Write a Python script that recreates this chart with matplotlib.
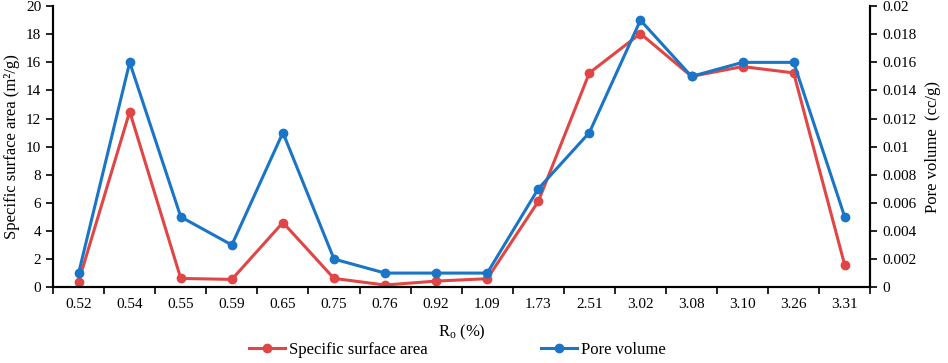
import matplotlib
matplotlib.use("Agg")
import matplotlib.pyplot as plt
import numpy as np

categories = ["0.52", "0.54", "0.55", "0.59", "0.65", "0.75", "0.76", "0.92",
              "1.09", "1.73", "2.51", "3.02", "3.08", "3.10", "3.26", "3.31"]
surface_area = [0.4, 12.5, 0.62, 0.55, 4.6, 0.62, 0.15, 0.43,
                0.6, 6.1, 15.25, 18.05, 15.0, 15.7, 15.25, 1.57]
pore_volume = [0.001, 0.016, 0.005, 0.003, 0.011, 0.002, 0.001, 0.001,
               0.001, 0.007, 0.011, 0.019, 0.015, 0.016, 0.016, 0.005]
left_ticks = [0, 2, 4, 6, 8, 10, 12, 14, 16, 18, 20]
right_ticks = [0, 0.002, 0.004, 0.006, 0.008, 0.01, 0.012, 0.014, 0.016, 0.018, 0.02]
right_labels = ["0", "0.002", "0.004", "0.006", "0.008", "0.01", "0.012",
                "0.014", "0.016", "0.018", "0.02"]

plt.rcParams['font.family'] = ['Liberation Serif', 'DejaVu Serif']
plt.rcParams['mathtext.fontset'] = 'custom'
plt.rcParams['mathtext.rm'] = 'Liberation Serif'
plt.rcParams['mathtext.it'] = 'Liberation Serif:italic'

RED = '#E04646'
BLUE = '#1A75C6'

fig = plt.figure(figsize=(9.48, 3.63), dpi=100)
ax = fig.add_axes([0.056, 0.209, 0.862, 0.774])
ax2 = ax.twinx()

x = np.arange(len(categories))
l1, = ax.plot(x, surface_area, color=RED, lw=2.2, marker='o', ms=6, label='Specific surface area')
l2, = ax2.plot(x, pore_volume, color=BLUE, lw=2.2, marker='o', ms=6, label='Pore volume')

ax.set_xlim(-0.5, len(categories) - 0.5)
ax.set_ylim(0, 20)
ax2.set_ylim(0, 0.02)

ax.set_yticks(left_ticks)
ax.set_yticklabels([str(t) for t in left_ticks])
ax2.set_yticks(right_ticks)
ax2.set_yticklabels(right_labels)

ax.set_xticks(x)
ax.set_xticklabels(categories)
ax.set_xticks(np.arange(-0.5, len(categories), 1.0), minor=True)
ax.tick_params(axis='x', which='major', length=0, labelsize=11, pad=8)
ax.tick_params(axis='x', which='minor', length=5, width=1.2, direction='out')
ax.tick_params(axis='y', length=5, width=1.2, direction='out', labelsize=11)
ax2.tick_params(axis='y', length=5, width=1.2, direction='out', labelsize=11)

for a in (ax, ax2):
    a.spines['top'].set_visible(False)
    for s in ('left', 'right', 'bottom'):
        a.spines[s].set_linewidth(1.5)
        a.spines[s].set_color('black')

ax.set_ylabel('Specific surface area (m²/g)', fontsize=12, labelpad=4)
ax2.set_ylabel('Pore volume  (cc/g)', fontsize=12, labelpad=6)
ax.set_xlabel(r'R$_\mathrm{o}$ (%)', fontsize=12, labelpad=8)

fig.legend(handles=[l1, l2], loc='center', bbox_to_anchor=(0.482, 0.036), ncol=2,
           frameon=False, fontsize=12, columnspacing=6.8, handlelength=2.2,
           handletextpad=0.2)

fig.savefig('out.png', dpi=100)
